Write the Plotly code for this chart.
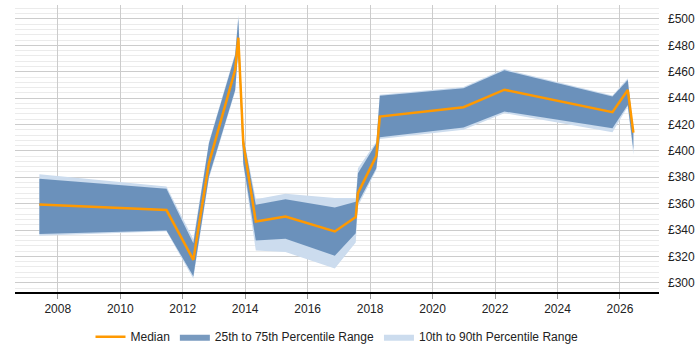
import plotly.graph_objects as go

years = [2007.41, 2011.48, 2012.34, 2012.84, 2013.68, 2013.78, 2013.94, 2014.34, 2015.29, 2016.87,
         2017.54, 2017.61, 2018.20, 2018.31, 2020.99, 2022.30, 2025.76, 2026.25, 2026.43]
median = [359.3, 355.1, 317.4, 390.7, 461.4, 485.8, 405.8, 346.4, 350.2, 338.9,
          349.8, 367.9, 396.2, 426.0, 433.1, 446.4, 429.3, 446.2, 413.9]
p25 = [336.9, 339.6, 305.0, 380.5, 446.2, 478.0, 390.7, 332.0, 333.3, 320.5,
       337.6, 360.4, 386.9, 410.4, 417.7, 429.8, 417.2, 434.8, 400.8]
p75 = [378.8, 371.2, 330.0, 405.8, 472.7, 500.5, 410.8, 359.1, 363.4, 357.0,
       361.4, 383.1, 405.8, 441.7, 447.5, 461.1, 441.2, 453.8, 414.6]
p10 = [335.6, 339.0, 303.0, 379.0, 445.0, 476.0, 389.0, 324.5, 323.3, 310.9,
       330.5, 358.0, 385.5, 409.0, 416.0, 428.6, 414.2, 433.5, 397.0]
p90 = [382.3, 373.0, 333.0, 407.0, 474.0, 503.0, 412.0, 363.4, 367.4, 364.2,
       364.2, 386.9, 407.0, 442.5, 448.5, 462.0, 442.0, 455.0, 416.0]

x_ticks = [2008, 2010, 2012, 2014, 2016, 2018, 2020, 2022, 2024, 2026]
x_labels = [str(t) for t in x_ticks]

LIGHT = "#ccdcee"
DARK = "rgba(75,120,170,0.75)"
ORANGE = "#ff9900"

fig = go.Figure()
fig.add_trace(go.Scatter(x=years, y=p10, mode="lines", line=dict(width=0, color=LIGHT),
                         showlegend=False, hoverinfo="skip"))
fig.add_trace(go.Scatter(x=years, y=p90, mode="lines", line=dict(width=0, color=LIGHT),
                         fill="tonexty", fillcolor=LIGHT, name="10th to 90th Percentile Range",
                         legendrank=3))
fig.add_trace(go.Scatter(x=years, y=p25, mode="lines", line=dict(width=0, color=DARK),
                         showlegend=False, hoverinfo="skip"))
fig.add_trace(go.Scatter(x=years, y=p75, mode="lines", line=dict(width=0, color=DARK),
                         fill="tonexty", fillcolor=DARK, name="25th to 75th Percentile Range",
                         legendrank=2))
fig.add_trace(go.Scatter(x=years, y=median, mode="lines", line=dict(width=2.5, color=ORANGE),
                         name="Median", legendrank=1))

fig.update_layout(
    width=700, height=350,
    margin=dict(l=15, r=41, t=5, b=58, autoexpand=False),
    paper_bgcolor="white", plot_bgcolor="white",
    font=dict(family="Liberation Sans, Arial, sans-serif", size=12, color="#222"),
    showlegend=True,
    legend=dict(orientation="h", x=0.5, xanchor="center", y=-0.105, yanchor="top",
                font=dict(size=12, color="#222"), traceorder="normal", itemwidth=30),
    xaxis=dict(range=[2006.63, 2027.25], tickvals=x_ticks, ticktext=x_labels,
               showgrid=True, gridcolor="#cccccc", gridwidth=1,
               showline=True, linecolor="#000", linewidth=1.5,
               ticks="outside", ticklen=5, tickcolor="#999", zeroline=False,
               tickfont=dict(size=12, color="#222")),
    yaxis=dict(range=[293, 510.6], side="right", dtick=20, tick0=300, tickprefix="£",
               showgrid=True, gridcolor="#cccccc", gridwidth=1, zeroline=False,
               showline=False, ticks="", ticklabelstandoff=8, tickfont=dict(size=12, color="#222"),
               minor=dict(dtick=4, tick0=300, showgrid=True, gridcolor="#ebebeb", gridwidth=1)),
)

fig.write_html("out.html")
